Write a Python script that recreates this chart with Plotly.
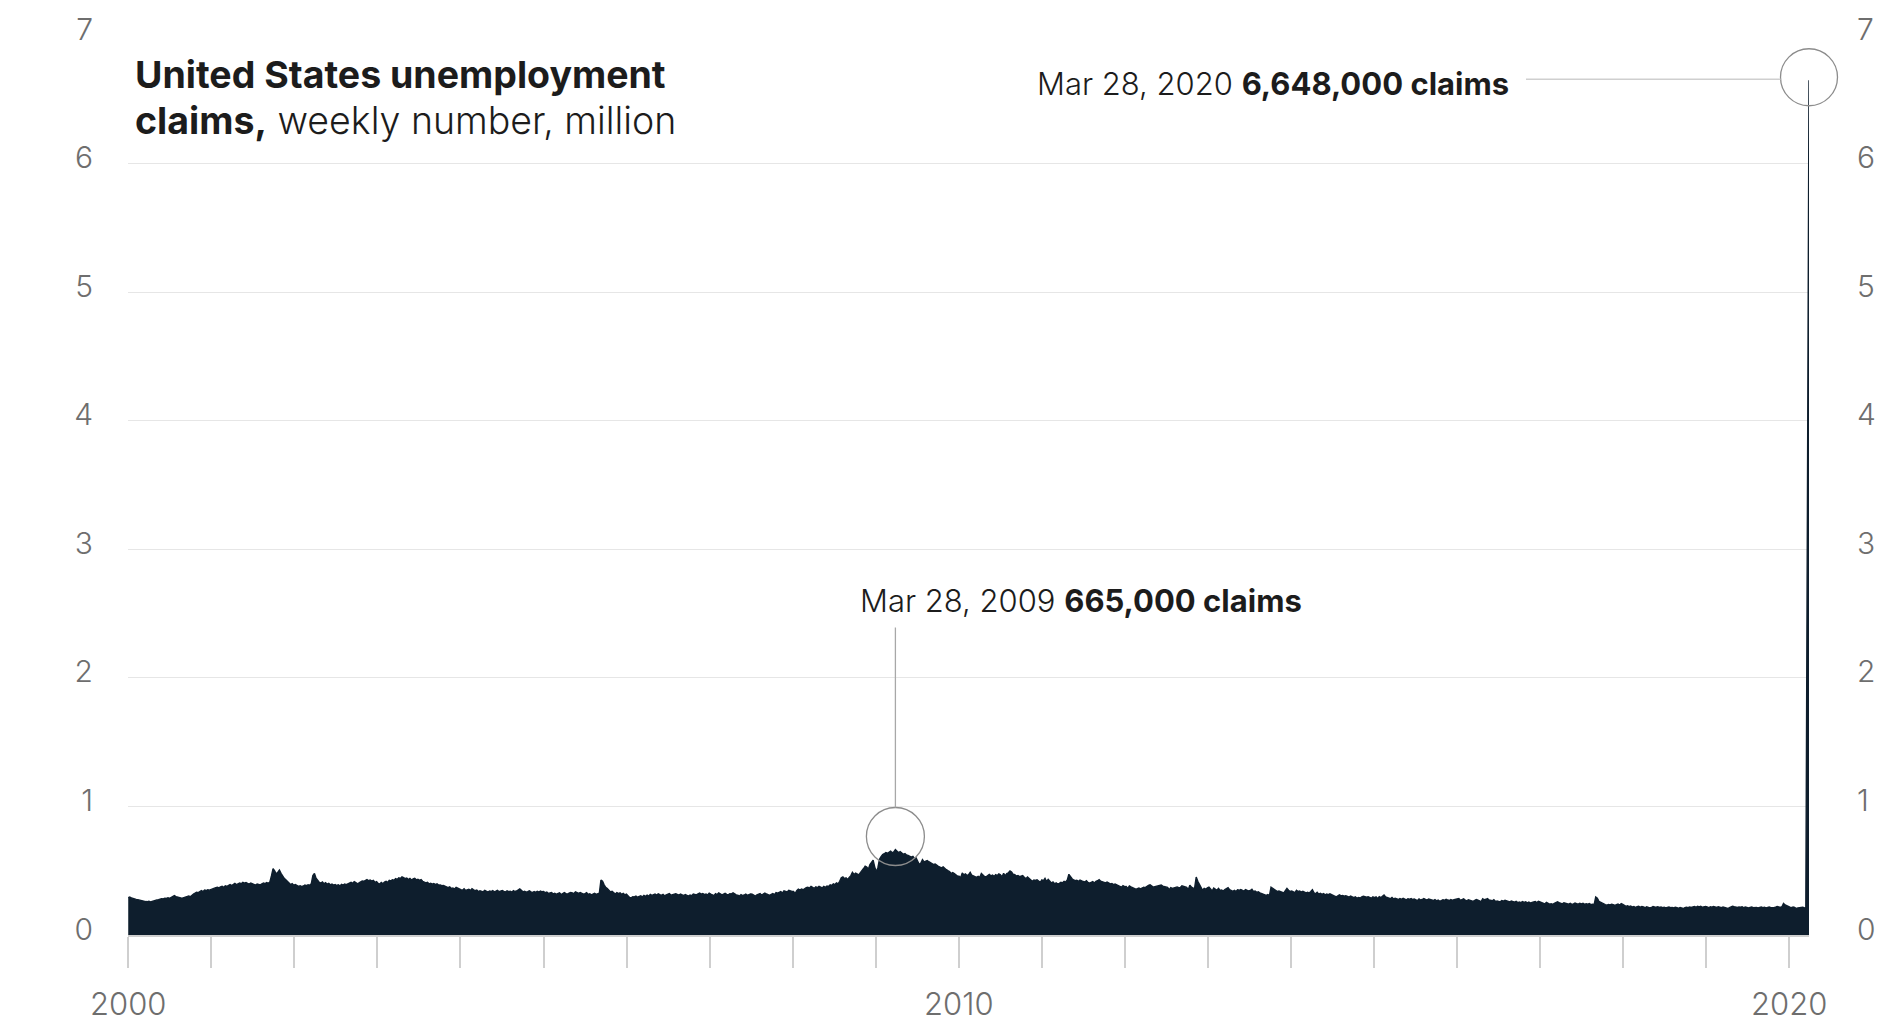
import pandas as pd
import plotly.graph_objects as go

# Weekly initial unemployment claims (seasonally adjusted), thousands,
# one list per calendar year, weeks ending on Saturday.
claims_2000 = [290, 296, 288, 283, 280, 277, 275, 271, 268, 266, 263, 260, 259, 262, 257, 262,
               266, 270, 273, 275, 281, 283, 280, 286, 284, 290, 285, 293, 298, 306, 299, 294,
               290, 289, 287, 291, 296, 300, 304, 298, 312, 318, 325, 333, 330, 340, 345, 338,
               350, 346, 352, 349, 355]
claims_2001 = [355, 362, 368, 372, 366, 374, 379, 371, 383, 378, 388, 392, 385, 396, 402, 391,
               398, 405, 399, 410, 403, 408, 401, 396, 404, 399, 393, 388, 397, 392, 390, 398,
               405, 400, 408, 402, 412, 461, 517, 498, 474, 488, 505, 480, 455, 441, 430, 418,
               405, 392, 399, 387]
claims_2002 = [392, 385, 378, 383, 376, 381, 389, 384, 391, 386, 398, 462, 478, 441, 422, 410,
               404, 412, 398, 407, 395, 401, 390, 396, 388, 393, 385, 390, 382, 394, 388, 397,
               392, 399, 405, 410, 402, 415, 408, 398, 405, 412, 420, 418, 425, 431, 422, 428,
               419, 425, 410, 415]
claims_2003 = [402, 396, 408, 398, 412, 418, 409, 425, 421, 430, 426, 438, 432, 445, 440, 452,
               447, 438, 443, 431, 440, 428, 436, 441, 429, 434, 425, 431, 418, 412, 405, 410,
               398, 402, 395, 401, 392, 398, 388, 390, 384, 386, 378, 372, 368, 375, 362, 366,
               358, 370, 362, 356]
claims_2004 = [352, 348, 359, 346, 351, 355, 347, 360, 352, 345, 350, 338, 344, 341, 336, 348,
               339, 334, 342, 338, 345, 336, 341, 348, 337, 343, 346, 339, 334, 344, 337, 340,
               333, 345, 338, 342, 350, 358, 347, 336, 341, 333, 338, 344, 335, 329, 337, 331,
               340, 334, 342, 336]
claims_2005 = [338, 329, 334, 322, 327, 331, 319, 325, 317, 323, 328, 315, 321, 330, 322, 318,
               326, 331, 328, 322, 335, 329, 324, 331, 326, 318, 322, 329, 315, 320, 312, 318,
               324, 316, 321, 326, 428, 418, 390, 370, 362, 348, 335, 340, 326, 319, 330, 322,
               328, 316, 323, 312, 318]
claims_2006 = [305, 292, 289, 298, 296, 303, 294, 299, 304, 296, 308, 301, 310, 302, 316, 308,
               312, 318, 311, 320, 314, 309, 316, 305, 312, 318, 322, 309, 314, 318, 321, 315,
               310, 318, 312, 306, 315, 309, 302, 310, 306, 318, 314, 312, 320, 326, 318, 322,
               314, 319, 312, 325]
claims_2007 = [318, 312, 306, 322, 315, 328, 319, 312, 318, 325, 316, 312, 321, 320, 328, 316,
               312, 309, 303, 314, 306, 311, 318, 309, 314, 320, 318, 306, 302, 312, 316, 322,
               310, 318, 326, 319, 312, 308, 316, 322, 314, 330, 325, 332, 338, 326, 344, 340,
               335, 348, 342, 339]
claims_2008 = [338, 322, 345, 356, 349, 358, 352, 364, 368, 372, 365, 378, 371, 362, 375, 368,
               379, 372, 366, 378, 370, 381, 378, 390, 385, 398, 392, 405, 398, 418, 446, 452,
               438, 445, 432, 448, 462, 488, 471, 482, 478, 468, 485, 498, 517, 535, 528, 512,
               548, 565, 582, 530]
claims_2009 = [492, 524, 590, 610, 626, 632, 641, 636, 648, 652, 639, 647, 665, 654, 640, 648,
               637, 628, 634, 622, 619, 613, 606, 612, 596, 600, 578, 548, 560, 586, 568, 574,
               579, 570, 562, 560, 548, 552, 540, 534, 528, 522, 530, 516, 508, 500, 494, 478,
               486, 478, 470, 458]
claims_2010 = [458, 445, 482, 468, 475, 462, 470, 488, 465, 459, 452, 448, 456, 448, 478, 462,
               455, 452, 464, 471, 460, 466, 456, 470, 462, 475, 468, 452, 480, 462, 478, 484,
               498, 490, 472, 470, 458, 462, 454, 456, 462, 448, 438, 452, 440, 432, 418, 428,
               424, 430, 419, 410]
claims_2011 = [428, 422, 440, 416, 432, 418, 404, 412, 398, 405, 396, 402, 410, 406, 418, 412,
               428, 472, 452, 438, 428, 422, 426, 418, 428, 420, 416, 412, 422, 408, 404, 410,
               416, 405, 418, 422, 430, 418, 412, 408, 405, 412, 402, 398, 400, 392, 396, 388,
               386, 378, 372, 384, 376]
claims_2012 = [378, 362, 382, 374, 368, 362, 356, 360, 365, 358, 366, 372, 368, 378, 386, 390,
               382, 372, 376, 378, 384, 382, 388, 380, 378, 376, 370, 352, 368, 362, 368, 372,
               374, 368, 370, 382, 378, 368, 370, 352, 388, 372, 364, 366, 451, 418, 396, 374,
               348, 362, 356, 366]
claims_2013 = [372, 358, 342, 366, 356, 348, 362, 346, 350, 342, 354, 358, 368, 352, 346, 340,
               348, 338, 352, 348, 354, 346, 342, 354, 348, 342, 346, 356, 338, 342, 332, 336,
               328, 322, 318, 312, 308, 314, 306, 372, 362, 352, 344, 338, 342, 336, 332, 328,
               345, 362, 348, 338]
claims_2014 = [342, 336, 330, 348, 338, 342, 334, 340, 336, 328, 332, 326, 338, 352, 328, 320,
               332, 318, 324, 316, 322, 312, 318, 314, 320, 312, 308, 302, 296, 306, 312, 304,
               308, 302, 306, 300, 294, 302, 296, 290, 296, 286, 292, 288, 296, 302, 298, 294,
               298, 290, 286, 296]
claims_2015 = [290, 296, 284, 298, 290, 302, 312, 296, 292, 288, 282, 292, 280, 286, 282, 276,
               284, 278, 286, 280, 274, 282, 278, 284, 276, 280, 274, 268, 280, 272, 276, 284,
               278, 272, 280, 274, 270, 268, 276, 266, 272, 262, 268, 274, 270, 278, 272, 268,
               276, 270, 274, 278]
claims_2016 = [276, 284, 270, 278, 282, 272, 266, 274, 270, 268, 262, 270, 276, 272, 266, 260,
               282, 274, 278, 284, 272, 268, 266, 274, 260, 264, 262, 258, 268, 264, 270, 266,
               262, 258, 264, 260, 256, 262, 252, 256, 252, 260, 254, 258, 250, 256, 248, 254,
               256, 260, 252, 262, 258]
claims_2017 = [252, 246, 242, 254, 248, 240, 244, 238, 246, 250, 258, 252, 248, 242, 250, 246,
               244, 240, 246, 238, 242, 248, 244, 240, 246, 242, 246, 238, 244, 240, 244, 236,
               240, 236, 296, 286, 262, 254, 248, 240, 236, 232, 238, 234, 240, 236, 230, 236,
               240, 232, 244, 238]
claims_2018 = [232, 222, 228, 220, 226, 218, 222, 214, 220, 224, 216, 222, 218, 212, 220, 216,
               210, 214, 222, 218, 216, 220, 214, 218, 212, 216, 210, 214, 218, 212, 214, 210,
               216, 212, 208, 214, 210, 206, 212, 216, 212, 218, 214, 220, 222, 216, 224, 218,
               224, 216, 220, 222]
claims_2019 = [218, 212, 220, 216, 222, 218, 214, 220, 216, 212, 218, 214, 210, 206, 212, 218,
               224, 220, 216, 214, 218, 216, 220, 212, 218, 214, 210, 214, 218, 212, 216, 214,
               210, 216, 218, 212, 216, 210, 214, 218, 212, 216, 214, 216, 222, 218, 214, 220,
               246, 234, 226, 220]
claims_2020 = [216, 212, 218, 214, 206, 210, 214, 218, 216, 212, 211, 3307, 6648]

years = list(range(2000, 2021))
weekly_by_year = [claims_2000, claims_2001, claims_2002, claims_2003, claims_2004, claims_2005,
                  claims_2006, claims_2007, claims_2008, claims_2009, claims_2010, claims_2011,
                  claims_2012, claims_2013, claims_2014, claims_2015, claims_2016, claims_2017,
                  claims_2018, claims_2019, claims_2020]

labeled_year_ticks = [2000, 2010, 2020]
y_ticks = [0, 1, 2, 3, 4, 5, 6, 7]
highlight_weeks = ["2009-03-28", "2020-03-28"]

# Build the weekly series: Saturdays of each year, values in millions
dates, values = [], []
for yr, vals in zip(years, weekly_by_year):
    saturdays = pd.date_range(f"{yr}-01-01", f"{yr}-12-31", freq="W-SAT")
    dates.extend(saturdays[:len(vals)])
    values.extend(v / 1000 for v in vals)
series = pd.Series(values, index=pd.DatetimeIndex(dates))

W, H = 1891, 1024
ML, MR, MT, MB = 128, 82, 35, 89
PLOT_W, PLOT_H = W - ML - MR, H - MT - MB
Y_MAX = 7

NAVY = "#0e1e2d"
INK = "#1c1c1c"
TICK_GREY = "#6e6e6e"
FONT = "Inter"

x_start, x_end = pd.Timestamp("1999-12-31"), series.index[-1]


def paper_x(px):
    return (px - ML) / PLOT_W


def paper_y(py):
    return (H - MB - py) / PLOT_H


def date_to_paper(ts):
    return (ts - x_start) / (x_end - x_start)


fig = go.Figure()
fig.add_trace(go.Scatter(
    x=series.index, y=series.values, mode="lines",
    line=dict(color=NAVY, width=1.4), fill="tozeroy", fillcolor=NAVY,
    hoverinfo="skip", showlegend=False,
))
# invisible companion trace so the right-hand value axis is drawn
fig.add_trace(go.Scatter(
    x=[series.index[0]], y=[0], yaxis="y2", mode="markers",
    marker=dict(opacity=0), hoverinfo="skip", showlegend=False,
))

year_ticks = [pd.Timestamp(f"{y}-01-01") for y in years]
year_text = [str(y) if y in labeled_year_ticks else "" for y in years]

tickfont = dict(family=FONT, size=30, color=TICK_GREY, weight=300)

fig.update_layout(
    width=W, height=H,
    margin=dict(l=ML, r=MR, t=MT, b=MB, autoexpand=False),
    paper_bgcolor="white", plot_bgcolor="white",
    font=dict(family=FONT, color=INK),
    xaxis=dict(
        type="date", range=[x_start, x_end], automargin=False,
        tickvals=year_ticks, ticktext=year_text,
        ticks="outside", ticklen=31, tickwidth=1.5, tickcolor="#cfcfcf",
        showgrid=False, zeroline=False,
        showline=True, linecolor="#cfcfcf", linewidth=1.5,
        tickfont=dict(family=FONT, size=31, color=TICK_GREY, weight=300),
        ticklabelstandoff=10,
    ),
    yaxis=dict(
        range=[0, Y_MAX], tickvals=y_ticks, ticktext=[str(v) for v in y_ticks],
        automargin=False,
        showgrid=True, gridcolor="#e6e6e6", gridwidth=1.3,
        zeroline=False, ticks="", tickfont=tickfont,
        ticklabelstandoff=34, ticklabelshift=-6,
    ),
    yaxis2=dict(
        range=[0, Y_MAX], tickvals=y_ticks, ticktext=[str(v) for v in y_ticks],
        automargin=False,
        overlaying="y", side="right", showgrid=False, zeroline=False,
        ticks="", tickfont=tickfont, ticklabelstandoff=47, ticklabelshift=-6,
    ),
)

# Title block, top left
fig.add_annotation(
    xref="paper", yref="paper", x=paper_x(133), y=paper_y(75),
    xanchor="left", yanchor="middle", showarrow=False,
    text="<b>United States unemployment</b>",
    font=dict(family=FONT, size=37.5, color=INK),
)
fig.add_annotation(
    xref="paper", yref="paper", x=paper_x(133), y=paper_y(121),
    xanchor="left", yanchor="middle", showarrow=False,
    text="<b>claims,</b> <span style='font-weight:300'>weekly number, million</span>",
    font=dict(family=FONT, size=37.5, color=INK),
)

# Highlighted weeks: ring, leader line and label
d09, d20 = (pd.Timestamp(d) for d in highlight_weeks)
v09, v20 = series[d09], series[d20]

ring_grey = "#8c8c8c"
fig.add_shape(type="circle", xref="x", yref="y", xsizemode="pixel", ysizemode="pixel",
              xanchor=d09, yanchor=v09, x0=-29, x1=29, y0=-16, y1=42,
              line=dict(color=ring_grey, width=1.3), fillcolor="rgba(0,0,0,0)")
fig.add_shape(type="line", xref="x", yref="y", xsizemode="pixel", ysizemode="pixel",
              xanchor=d09, yanchor=v09, x0=0, x1=0, y0=42, y1=222,
              line=dict(color="#a8a8a8", width=1.3))
fig.add_annotation(
    x=d09, y=v09, xanchor="left", yanchor="middle", xshift=-37, yshift=249,
    showarrow=False,
    text=f"<span style='font-weight:300'>Mar 28, 2009</span> <b>{v09 * 1e6:,.0f} claims</b>",
    font=dict(family=FONT, size=31, color=INK),
)

# the 2020 ring sits on the plot edge, so it is placed in paper space (not clipped)
px20, py20 = date_to_paper(d20), v20 / Y_MAX
fig.add_shape(type="circle", xref="paper", yref="paper", xsizemode="pixel", ysizemode="pixel",
              xanchor=px20, yanchor=py20, x0=-28.5, x1=28.5, y0=-25.5, y1=31.5,
              line=dict(color=ring_grey, width=1.3), fillcolor="rgba(0,0,0,0)")
fig.add_shape(type="line", xref="paper", yref="paper", xsizemode="pixel", ysizemode="pixel",
              xanchor=px20, yanchor=py20, x0=-283, x1=-28.5, y0=1, y1=1,
              line=dict(color="#cfcfcf", width=1.3))
fig.add_annotation(
    x=d20, y=v20, xanchor="right", yanchor="middle", xshift=-298, yshift=-3,
    showarrow=False,
    text=f"<span style='font-weight:300'>Mar 28, 2020</span> <b>{v20 * 1e6:,.0f} claims</b>",
    font=dict(family=FONT, size=31, color=INK),
)

fig.write_html("out.html")
